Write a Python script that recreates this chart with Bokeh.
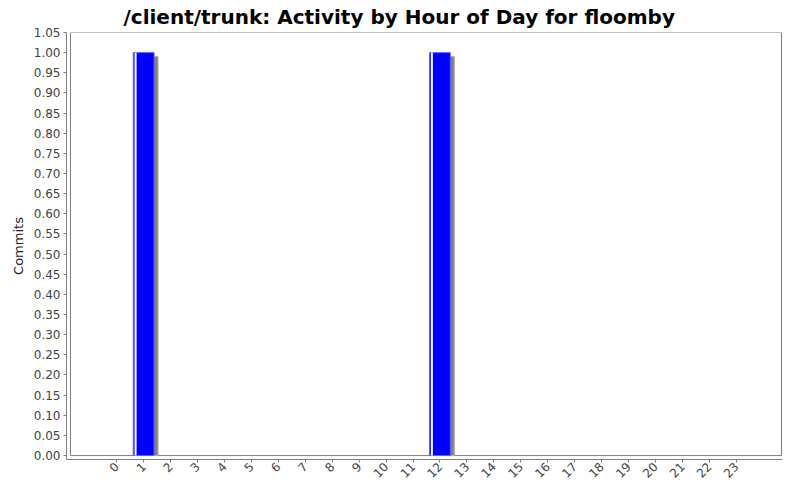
import math

from bokeh.embed import file_html
from bokeh.models import BoxAnnotation, ColumnDataSource, FixedTicker, Range1d
from bokeh.plotting import figure
from bokeh.resources import INLINE

# data: commits per hour of day
hours = list(range(24))
hour_labels = [str(h) for h in hours]
commits = [0, 1, 0, 0, 0, 0, 0, 0, 0, 0, 0, 0, 1, 0, 0, 0, 0, 0, 0, 0, 0, 0, 0, 0]
y_ticks = [round(i * 0.05, 2) for i in range(22)]

X0, X1 = -1.864, 24.717          # category axis range
FRAME_W, FRAME_H = 716, 431
PX_X = FRAME_W / (X1 - X0)
PX_Y = (FRAME_H - 4) / 1.05
BAR_W = 0.77

# only hours with commits get a bar
nz = [i for i, c in enumerate(commits) if c > 0]
src = ColumnDataSource(dict(
    hour=[hours[i] for i in nz],
    commits=[commits[i] for i in nz],
    shadow_x=[hours[i] + 4 / PX_X for i in nz],
    shadow_top=[commits[i] - 4 / PX_Y for i in nz],
    shine_x=[hours[i] - BAR_W / 2 + 2.3 / PX_X for i in nz],
))

p = figure(
    width=784, height=484,
    output_backend="svg",
    toolbar_location=None,
    x_range=Range1d(X0, X1),
    y_range=Range1d(-4 / PX_Y, 1.05),
    min_border_left=66, min_border_right=2,
    min_border_top=30, min_border_bottom=23,
    title="/client/trunk: Activity by Hour of Day for floomby",
)
p.outline_line_color = None
p.xgrid.visible = False
p.ygrid.visible = False

# centred on the whole canvas, not on the frame
p.title.align = "left"
p.title.offset = 57
p.title.vertical_align = "middle"
p.title.text_font = "DejaVu Sans"
p.title.text_font_size = "20px"
p.title.text_font_style = "bold"
p.title.text_color = "#000000"
p.title.standoff = 6

# plot border, a few px inside the axes
p.add_layout(BoxAnnotation(
    left=X0 + 4 / PX_X, right=X1 - 1 / PX_X,
    bottom=0, top=1.05,
    fill_alpha=0, line_color="#808080", line_alpha=1, line_width=1,
    level="underlay",
))

# shadow, bar, highlight
p.vbar(x="shadow_x", top="shadow_top", bottom=0, width=BAR_W, source=src,
       fill_color="#808080", line_color="#b0b0b0", line_width=1)
p.vbar(x="hour", top="commits", bottom=0, width=BAR_W, source=src,
       fill_color="#0000ff", line_color="#5a5aff", line_width=1)
p.vbar(x="shine_x", top="commits", bottom=0, width=2 / PX_X, source=src,
       fill_color="#ffffff", line_color=None)

p.xaxis.ticker = FixedTicker(ticks=hours)
p.xaxis.major_label_overrides = {h: lab for h, lab in zip(hours, hour_labels)}
p.xaxis.major_label_orientation = math.pi / 4
p.yaxis.ticker = FixedTicker(ticks=y_ticks)
p.yaxis.major_label_overrides = {t: f"{t:.2f}" for t in y_ticks}
p.yaxis.axis_label = "Commits"

for ax in (p.xaxis, p.yaxis):
    ax.axis_line_color = "#808080"
    ax.major_tick_line_color = "#808080"
    ax.major_tick_in = 0
    ax.major_tick_out = 3
    ax.minor_tick_line_color = None
    ax.major_label_text_font = "DejaVu Sans"
    ax.major_label_text_font_size = "12px"
    ax.major_label_text_color = "#444444"
    ax.major_label_standoff = 3
p.xaxis.major_label_standoff = 2
p.yaxis.axis_label_text_font = "DejaVu Sans"
p.yaxis.axis_label_text_font_size = "13px"
p.yaxis.axis_label_text_font_style = "normal"
p.yaxis.axis_label_text_color = "#222222"
p.yaxis.axis_label_standoff = 5

open("out.html", "w").write(file_html(p, INLINE))
